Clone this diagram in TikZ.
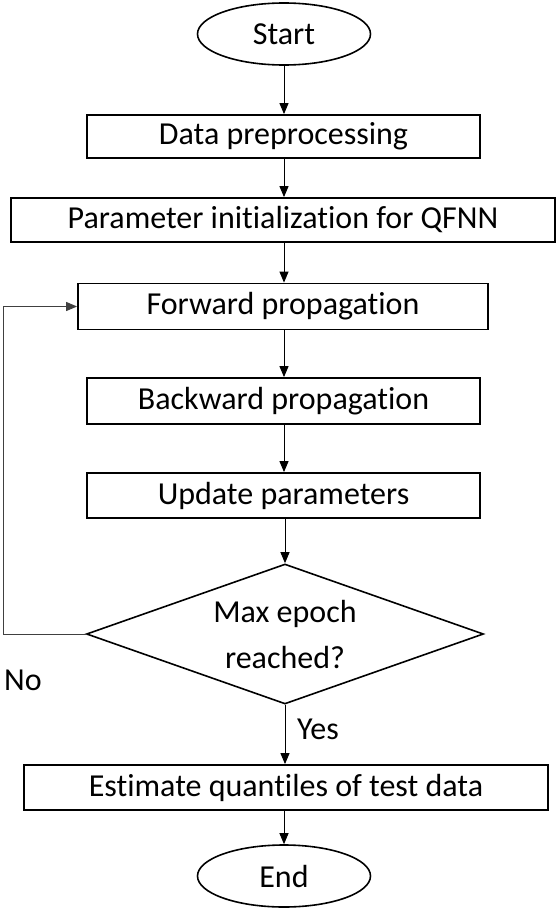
\documentclass[tikz,border=0pt]{standalone}
\usepackage{fontspec}
\setmainfont[Ligatures={NoCommon}]{Carlito}
\usetikzlibrary{shapes.geometric,arrows.meta}
\begin{document}
\begin{tikzpicture}[x=1pt,y=1pt,
  every node/.style={font=\fontsize{32}{46}\selectfont, inner sep=0pt},
  procbox/.style={draw, line width=1.8pt, rectangle},
  term/.style={draw, line width=1.6pt, ellipse, minimum width=173pt, minimum height=62pt},
  decision/.style={draw, line width=1.6pt, diamond, aspect=2.84, minimum width=397pt, minimum height=140pt, align=center},
  conn/.style={line width=1pt, -{Triangle[length=11pt,width=9pt]}},
  lbl/.style={anchor=center}]
\useasboundingbox (0,0) rectangle (556,-910);
\node[term] (start) at (284,-34) {Start};
\node[procbox, minimum width=393pt, minimum height=43pt] (data) at (283.5,-136.5) {Data preprocessing};
\node[procbox, minimum width=544pt, minimum height=44pt] (init) at (283,-220) {Parameter initialization for QFNN};
\node[procbox, minimum width=410pt, minimum height=46pt] (fwd) at (283,-306.5) {Forward propagation};
\node[procbox, minimum width=393pt, minimum height=46pt] (bwd) at (283.5,-401) {Backward propagation};
\node[procbox, minimum width=393pt, minimum height=45pt] (upd) at (283.5,-495.5) {Update parameters};
\node[decision] (dec) at (285,-634) {Max epoch\\reached?};
\node[procbox, minimum width=524pt, minimum height=45pt] (est) at (286,-787.5) {Estimate quantiles of test data};
\node[term] (end) at (284,-876) {End};
\node[lbl] (no) at (23,-680) {No};
\node[lbl] (yes) at (318,-729) {Yes};
\coordinate (fb) at (3,-634);
\draw[conn] (start.south) -- (start.south |- data.north);
\draw[conn] (start.south |- data.south) -- (start.south |- init.north);
\draw[conn] (start.south |- init.south) -- (start.south |- fwd.north);
\draw[conn] (start.south |- fwd.south) -- (start.south |- bwd.north);
\draw[conn] (start.south |- bwd.south) -- (start.south |- upd.north);
\draw[conn] (dec.north |- upd.south) -- (dec.north);
\draw[conn] (dec.south) -- (dec.south |- est.north);
\draw[conn] (end.north |- est.south) -- (end.north);
\draw[conn, black!75] (dec.west) -- (fb) |- (fwd.west);
\end{tikzpicture}
\end{document}
